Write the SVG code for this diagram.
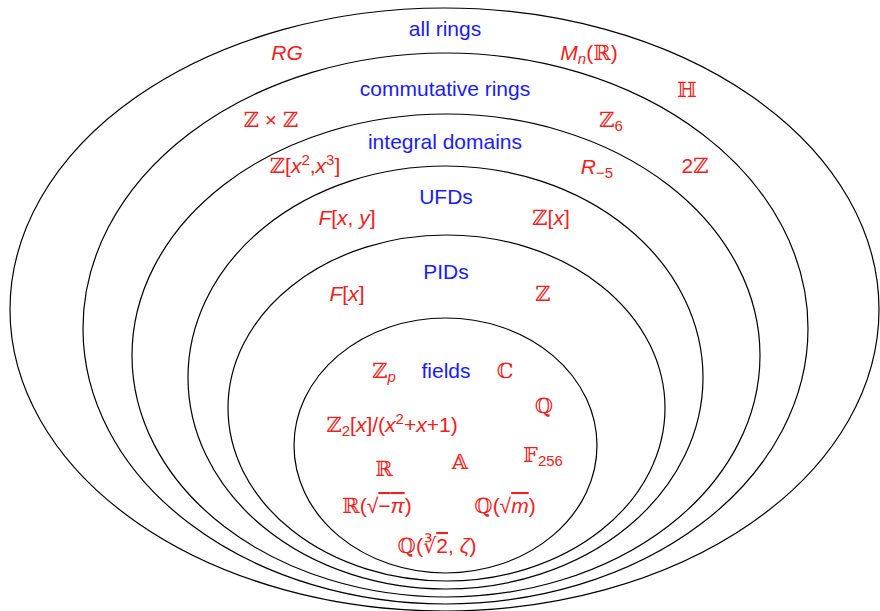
<svg xmlns="http://www.w3.org/2000/svg" width="880" height="611" viewBox="0 0 880 611">
<style>
.ring{fill:none;stroke:#000;stroke-width:1.2}
.lbl{font-family:"Liberation Sans","DejaVu Sans",sans-serif;font-size:21px;fill:#1a1aff;text-anchor:middle}
.ex{font-family:"Liberation Sans","DejaVu Sans",sans-serif;font-size:21px;fill:#f02020;text-anchor:middle}
.it{font-style:italic}
.bb{font-family:"DejaVu Serif","DejaVu Sans",serif;font-style:normal}
.sm{font-size:15px}
.ov{text-decoration:overline}
</style>
<rect width="880" height="611" fill="#fff"/>
<g id="all-rings">
<ellipse class="ring" cx="444.5" cy="309.5" rx="434.5" ry="301.5"/>
<text class="lbl" x="445" y="36">all rings</text>
<text class="ex it" x="287" y="60">RG</text>
<text class="ex" x="589" y="60"><tspan class="it">M</tspan><tspan class="it sm" dy="4">n</tspan><tspan dy="-4">(</tspan><tspan class="bb">ℝ</tspan>)</text>
<text class="ex bb" x="687" y="97">ℍ</text>
</g>
<g id="commutative-rings">
<ellipse class="ring" cx="445.5" cy="328.5" rx="362.5" ry="275.5"/>
<text class="lbl" x="445" y="96">commutative rings</text>
<text class="ex" x="271" y="127"><tspan class="bb">ℤ</tspan> × <tspan class="bb">ℤ</tspan></text>
<text class="ex" x="611" y="127"><tspan class="bb">ℤ</tspan><tspan class="sm" dy="4">6</tspan></text>
<text class="ex" x="695" y="173">2<tspan class="bb">ℤ</tspan></text>
</g>
<g id="integral-domains">
<ellipse class="ring" cx="446" cy="355.5" rx="314" ry="241.5"/>
<text class="lbl" x="445" y="149">integral domains</text>
<text class="ex" x="305" y="173"><tspan class="bb">ℤ</tspan>[<tspan class="it">x</tspan><tspan class="sm" dy="-8">2</tspan><tspan dy="8">,</tspan><tspan class="it">x</tspan><tspan class="sm" dy="-8">3</tspan><tspan dy="8">]</tspan></text>
<text class="ex" x="597" y="174"><tspan class="it">R</tspan><tspan class="sm" dy="4">−5</tspan></text>
</g>
<g id="ufds">
<ellipse class="ring" cx="445.5" cy="377.5" rx="257.5" ry="211.5"/>
<text class="lbl" x="446" y="204">UFDs</text>
<text class="ex" x="347" y="225"><tspan class="it">F</tspan>[<tspan class="it">x</tspan>, <tspan class="it">y</tspan>]</text>
<text class="ex" x="551" y="225"><tspan class="bb">ℤ</tspan>[<tspan class="it">x</tspan>]</text>
</g>
<g id="pids">
<ellipse class="ring" cx="446.5" cy="408" rx="218.5" ry="173"/>
<text class="lbl" x="446" y="279">PIDs</text>
<text class="ex" x="347" y="301"><tspan class="it">F</tspan>[<tspan class="it">x</tspan>]</text>
<text class="ex bb" x="543" y="301">ℤ</text>
</g>
<g id="fields">
<ellipse class="ring" cx="445.5" cy="445.5" rx="151.5" ry="127.5"/>
<text class="lbl" x="446" y="378">fields</text>
<text class="ex" x="384" y="378"><tspan class="bb">ℤ</tspan><tspan class="it sm" dy="4">p</tspan></text>
<text class="ex bb" x="505" y="378">ℂ</text>
<text class="ex bb" x="544" y="413">ℚ</text>
<text class="ex" x="392" y="432"><tspan class="bb">ℤ</tspan><tspan class="sm" dy="4">2</tspan><tspan dy="-4">[</tspan><tspan class="it">x</tspan>]/(<tspan class="it">x</tspan><tspan class="sm" dy="-8">2</tspan><tspan dy="8">+</tspan><tspan class="it">x</tspan>+1)</text>
<text class="ex" x="543" y="462"><tspan class="bb">𝔽</tspan><tspan class="sm" dy="4">256</tspan></text>
<text class="ex bb" x="384" y="476">ℝ</text>
<text class="ex bb" x="460" y="469">𝔸</text>
<text class="ex" x="377" y="513"><tspan class="bb">ℝ</tspan>(√<tspan class="ov">−<tspan class="it">π</tspan></tspan>)</text>
<text class="ex" x="505" y="513"><tspan class="bb">ℚ</tspan>(√<tspan class="it ov">m</tspan>)</text>
<text class="ex" x="437" y="553"><tspan class="bb">ℚ</tspan>(∛<tspan class="ov">2</tspan>, <tspan class="it">ζ</tspan>)</text>
</g>
</svg>
